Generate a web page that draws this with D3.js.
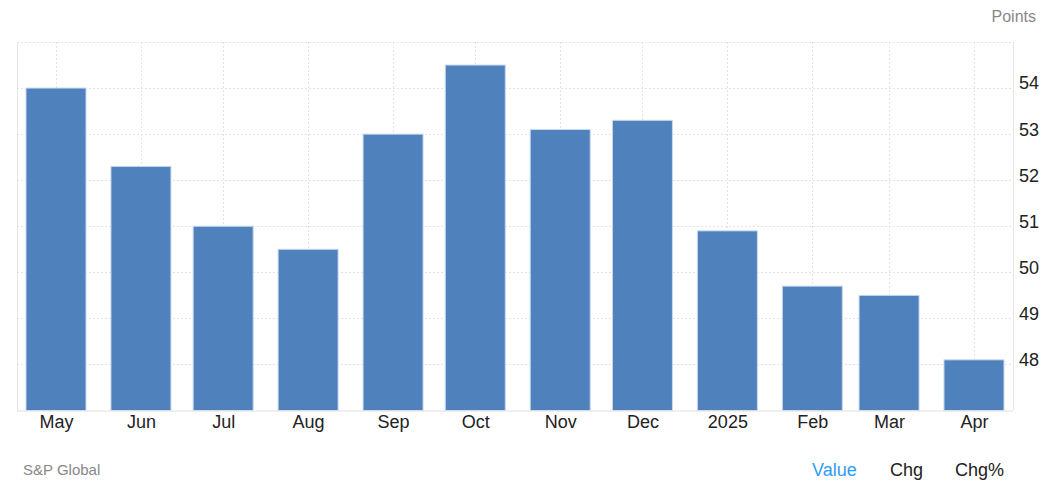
<!DOCTYPE html>
<html>
<head>
<meta charset="utf-8">
<script src="https://cdn.jsdelivr.net/npm/d3@7"></script>
<style>
  body { margin: 0; background: #fff; }
  svg { display: block; font-family: "Liberation Sans", Arial, sans-serif; }
</style>
</head>
<body>
<svg id="chart" width="1050" height="491"></svg>
<script>
// monthly readings, one per month start (time axis, so Feb is narrower)
const dates = ["2024-05-01", "2024-06-01", "2024-07-01", "2024-08-01", "2024-09-01", "2024-10-01",
               "2024-11-01", "2024-12-01", "2025-01-01", "2025-02-01", "2025-03-01", "2025-04-01"];
const labels = ["May", "Jun", "Jul", "Aug", "Sep", "Oct", "Nov", "Dec", "2025", "Feb", "Mar", "Apr"];
const values = [54.0, 52.3, 51.0, 50.5, 53.0, 54.5, 53.1, 53.3, 50.9, 49.7, 49.5, 48.1];
const yTicks = [48, 49, 50, 51, 52, 53, 54];
const tabs = ["Value", "Chg", "Chg%"];

const svg = d3.select("#chart");
const plot = {left: 17, right: 1013, top: 42, bottom: 410.5, pad: 39};
const barWidth = 60;

const parse = d3.utcParse("%Y-%m-%d");
const days = dates.map(parse);

const x = d3.scaleUtc()
    .domain(d3.extent(days))
    .range([plot.left + plot.pad, plot.right - plot.pad]);

const y = d3.scaleLinear()
    .domain([47, 55])
    .range([plot.bottom, plot.top]);

// horizontal grid
svg.append("g")
    .selectAll("line")
    .data(d3.range(48, 56))
    .join("line")
    .attr("x1", plot.left).attr("x2", plot.right)
    .attr("y1", d => Math.round(y(d)) + 0.5)
    .attr("y2", d => Math.round(y(d)) + 0.5)
    .attr("stroke", "#e3e3e3")
    .attr("stroke-dasharray", "2,2");

// vertical grid at each month
svg.append("g")
    .selectAll("line")
    .data(days)
    .join("line")
    .attr("x1", d => Math.round(x(d)) + 0.5)
    .attr("x2", d => Math.round(x(d)) + 0.5)
    .attr("y1", plot.top).attr("y2", plot.bottom)
    .attr("stroke", "#e3e3e3")
    .attr("stroke-dasharray", "2,2");

// plot frame (left and right edges)
svg.append("line")
    .attr("x1", plot.left + 0.5).attr("x2", plot.left + 0.5)
    .attr("y1", plot.top).attr("y2", plot.bottom)
    .attr("stroke", "#e6e6e6");
svg.append("line")
    .attr("x1", plot.right + 0.5).attr("x2", plot.right + 0.5)
    .attr("y1", plot.top).attr("y2", plot.bottom)
    .attr("stroke", "#e6e6e6");

// bars
svg.append("g")
    .selectAll("rect")
    .data(values)
    .join("rect")
    .attr("x", (d, i) => x(days[i]) - barWidth / 2)
    .attr("width", barWidth)
    .attr("y", d => y(d))
    .attr("height", d => plot.bottom - y(d))
    .attr("fill", "#4f81bd")
    .attr("stroke", "#c9d8ee")
    .attr("stroke-width", 1);

// x axis
const xAxis = svg.append("g")
    .attr("transform", `translate(0,${plot.bottom})`)
    .call(d3.axisBottom(x)
        .tickValues(days)
        .tickFormat((d, i) => labels[i])
        .tickSize(0).tickPadding(5));
xAxis.select(".domain")
    .attr("d", `M${plot.left},0.5H${plot.right}`)
    .attr("stroke", "#e0e0e0");
xAxis.selectAll("text")
    .attr("fill", "#222")
    .style("font-size", "18px");

// y axis on the right
const yAxis = svg.append("g")
    .attr("transform", `translate(${plot.right},0)`)
    .call(d3.axisRight(y).tickValues(yTicks).tickSize(0).tickPadding(6));
yAxis.select(".domain").remove();
yAxis.selectAll("text")
    .attr("fill", "#222")
    .attr("dy", "0.05em")
    .style("font-size", "18px");

svg.append("text")
    .attr("x", 1036).attr("y", 22)
    .attr("text-anchor", "end")
    .attr("fill", "#888")
    .style("font-size", "16px")
    .text("Points");

svg.append("text")
    .attr("x", 23).attr("y", 475)
    .attr("fill", "#888")
    .style("font-size", "15px")
    .text("S&P Global");

const tabX = [812, 890, 955];
svg.append("g")
    .selectAll("text")
    .data(tabs)
    .join("text")
    .attr("x", (d, i) => tabX[i])
    .attr("y", 476)
    .attr("fill", (d, i) => i === 0 ? "#2f9cf4" : "#222")
    .style("font-size", "18px")
    .text(d => d);
</script>
</body>
</html>
